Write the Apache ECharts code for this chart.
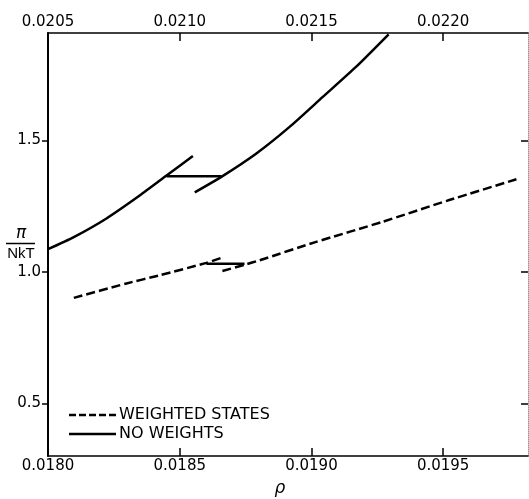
<!DOCTYPE html>
<html>
<head>
<meta charset="utf-8">
<script src="https://cdn.jsdelivr.net/npm/echarts@6/dist/echarts.min.js"></script>
<style>
html,body{margin:0;padding:0;background:#fff;}
#chart{width:529px;height:499px;}
</style>
</head>
<body>
<div id="chart"></div>
<script>
// Bottom axis ticks (rho) and top axis ticks
const bottomTicks = [0.0180, 0.0185, 0.0190, 0.0195];
const topTicks = [0.0205, 0.0210, 0.0215, 0.0220];
const yTicks = [0.5, 1.0, 1.5];
const legendNames = ['WEIGHTED STATES', 'NO WEIGHTS'];

// NO WEIGHTS (solid, top axis)
const noWLowerX = [0.020500, 0.020596, 0.020722, 0.020848, 0.020950, 0.021050];
const noWLowerY = [1.086, 1.131, 1.203, 1.290, 1.366, 1.440];
const noWUpperX = [0.021057, 0.021158, 0.021291, 0.021417, 0.021543, 0.021669, 0.021793];
const noWUpperY = [1.302, 1.361, 1.450, 1.551, 1.665, 1.779, 1.903];
const noWTieX = [0.020950, 0.021158];
const noWTieY = [1.363, 1.363];

// WEIGHTED STATES (dashed, bottom axis)
const wLowerX = [0.018098, 0.018298, 0.018424, 0.018601, 0.018662];
const wLowerY = [0.901, 0.956, 0.987, 1.034, 1.055];
const wUpperX = [0.018662, 0.018746, 0.018803, 0.019018, 0.019269, 0.019523, 0.019788];
const wUpperY = [1.003, 1.027, 1.044, 1.114, 1.190, 1.273, 1.355];
const wTieX = [0.018601, 0.018746];
const wTieY = [1.031, 1.031];

const pairs = (xs, ys) => xs.map((x, i) => [x, ys[i]]);

const FONT = 'DejaVu Sans';
const chart = echarts.init(document.getElementById('chart'), null, {renderer: 'canvas'});

const DASH = [9, 4];
const dashed = {color: '#000', width: 2.5, type: DASH};
const solid = {color: '#000', width: 2.5, type: 'solid'};

chart.setOption({
  animation: false,
  backgroundColor: '#fff',
  grid: {left: 48, right: 1, top: 33, bottom: 43, containLabel: false, outerBoundsMode: 'none'},
  xAxis: [
    {
      type: 'value', position: 'bottom', min: 0.0180, max: 0.019822,
      axisLine: {show: true, lineStyle: {color: '#000', width: 1.5}},
      axisTick: {show: true, inside: true, length: 8, lineStyle: {color: '#000', width: 1.5}, customValues: bottomTicks},
      axisLabel: {show: true, margin: 3, customValues: bottomTicks, formatter: v => v.toFixed(4),
        fontFamily: FONT, fontSize: 15, color: '#000'},
      splitLine: {show: false}
    },
    {
      type: 'value', position: 'top', min: 0.0205, max: 0.022322,
      axisLine: {show: true, lineStyle: {color: '#000', width: 1.5}},
      axisTick: {show: true, inside: true, length: 8, lineStyle: {color: '#000', width: 1.5}, customValues: topTicks},
      axisLabel: {show: true, margin: 3, customValues: topTicks, formatter: v => v.toFixed(4),
        fontFamily: FONT, fontSize: 15, color: '#000'},
      splitLine: {show: false}
    }
  ],
  yAxis: [
    {
      type: 'value', position: 'left', min: 0.3, max: 1.908,
      axisLine: {show: true, lineStyle: {color: '#000', width: 2}},
      axisTick: {show: true, inside: false, length: 6, lineStyle: {color: '#000', width: 1.5}, customValues: yTicks},
      axisLabel: {show: true, margin: 7, customValues: yTicks, formatter: v => v.toFixed(1),
        fontFamily: FONT, fontSize: 15, color: '#000'},
      splitLine: {show: false}
    },
    {
      type: 'value', position: 'right', min: 0.3, max: 1.908,
      axisLine: {show: true, lineStyle: {color: '#999', width: 1, type: 'dotted'}},
      axisTick: {show: true, inside: true, length: 7, lineStyle: {color: '#000', width: 1.5}, customValues: yTicks},
      axisLabel: {show: false},
      splitLine: {show: false}
    }
  ],
  series: [
    {name: legendNames[0], type: 'line', xAxisIndex: 0, yAxisIndex: 0, data: pairs(wLowerX, wLowerY),
      symbol: 'none', smooth: 0.2, lineStyle: dashed, itemStyle: {color: '#000'}},
    {name: legendNames[0], type: 'line', xAxisIndex: 0, yAxisIndex: 0, data: pairs(wUpperX, wUpperY),
      symbol: 'none', smooth: 0.2, lineStyle: dashed, itemStyle: {color: '#000'}},
    {name: 'weighted tie', type: 'line', xAxisIndex: 0, yAxisIndex: 0, data: pairs(wTieX, wTieY),
      symbol: 'none', lineStyle: solid, itemStyle: {color: '#000'}},
    {name: legendNames[1], type: 'line', xAxisIndex: 1, yAxisIndex: 0, data: pairs(noWLowerX, noWLowerY),
      symbol: 'none', smooth: 0.2, lineStyle: solid, itemStyle: {color: '#000'}},
    {name: legendNames[1], type: 'line', xAxisIndex: 1, yAxisIndex: 0, data: pairs(noWUpperX, noWUpperY),
      symbol: 'none', smooth: 0.2, lineStyle: solid, itemStyle: {color: '#000'}},
    {name: 'no weights tie', type: 'line', xAxisIndex: 1, yAxisIndex: 0, data: pairs(noWTieX, noWTieY),
      symbol: 'none', lineStyle: solid, itemStyle: {color: '#000'}}
  ],
  graphic: [
    // legend
    {type: 'line', shape: {x1: 69, y1: 415, x2: 116, y2: 415}, style: {stroke: '#000', lineWidth: 2.5, lineDash: [7, 3]}},
    {type: 'text', x: 119, y: 415, style: {text: legendNames[0], font: '16px "DejaVu Sans"', fill: '#000', verticalAlign: 'middle'}},
    {type: 'line', shape: {x1: 69, y1: 434, x2: 116, y2: 434}, style: {stroke: '#000', lineWidth: 2.5}},
    {type: 'text', x: 119, y: 434, style: {text: legendNames[1], font: '16px "DejaVu Sans"', fill: '#000', verticalAlign: 'middle'}},
    // axis names
    {type: 'text', x: 280, y: 489, style: {text: 'ρ', font: 'italic 17px "DejaVu Sans"', fill: '#000', align: 'center', verticalAlign: 'middle'}},
    {type: 'text', x: 21, y: 242, style: {text: 'π', font: 'italic 17px "DejaVu Sans"', fill: '#000', align: 'center', verticalAlign: 'bottom'}},
    {type: 'line', shape: {x1: 6, y1: 243.5, x2: 35, y2: 243.5}, style: {stroke: '#000', lineWidth: 1.5}},
    {type: 'text', x: 21, y: 246, style: {text: 'NkT', font: '15px "Liberation Sans"', fill: '#000', align: 'center', verticalAlign: 'top'}}
  ]
});
</script>
</body>
</html>
